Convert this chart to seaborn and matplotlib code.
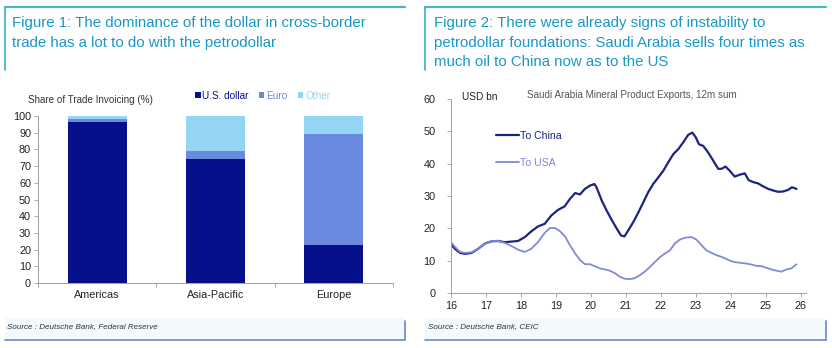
import matplotlib
matplotlib.use("Agg")
import matplotlib.pyplot as plt
from matplotlib.lines import Line2D
from matplotlib.patches import Rectangle, Patch
import numpy as np
import pandas as pd
import seaborn as sns

# ---- Figure 1 data: share of trade invoicing by currency (%) ----
regions = ["Americas", "Asia-Pacific", "Europe"]
usd_share = [96.5, 74, 23]
euro_share = [1.5, 5, 66]
other_share = [2, 21, 11]
currencies = ["U.S. dollar", "Euro", "Other"]

# ---- Figure 2 data: Saudi Arabia mineral product exports, 12m sum (USD bn) ----
china_years = [16.00, 16.11, 16.26, 16.40, 16.59, 16.78, 16.97, 17.16, 17.35, 17.54,
               17.73, 17.92, 18.11, 18.30, 18.49, 18.68, 18.87, 19.06, 19.25, 19.40,
               19.55, 19.69, 19.83, 19.97, 20.10, 20.16, 20.31, 20.45, 20.59, 20.74,
               20.86, 20.96, 21.07, 21.21, 21.36, 21.50, 21.64, 21.78, 21.93, 22.07,
               22.21, 22.36, 22.50, 22.64, 22.78, 22.90, 22.99, 23.09, 23.21, 23.35,
               23.50, 23.64, 23.73, 23.85, 23.97, 24.11, 24.26, 24.40, 24.51, 24.64,
               24.78, 24.92, 25.07, 25.21, 25.35, 25.50, 25.64, 25.75, 25.88]
china_exports = [15.1, 13.7, 12.4, 12.1, 12.4, 13.7, 15.3, 16.0, 16.1, 15.7,
                 15.9, 16.1, 17.3, 19.1, 20.6, 21.4, 24.0, 25.7, 26.8, 29.1,
                 30.9, 30.5, 32.2, 33.2, 33.7, 32.7, 28.6, 25.5, 22.7, 19.9,
                 17.8, 17.5, 19.4, 21.9, 25.0, 28.1, 31.2, 33.7, 35.8, 37.8,
                 40.4, 43.0, 44.5, 46.6, 48.9, 49.6, 48.3, 46.0, 45.5, 43.5,
                 40.9, 38.4, 38.4, 39.1, 37.8, 36.0, 36.6, 37.0, 34.9, 34.3,
                 33.9, 33.0, 32.2, 31.7, 31.3, 31.4, 31.9, 32.7, 32.2]
usa_years = [16.00, 16.11, 16.26, 16.40, 16.59, 16.78, 16.97, 17.16, 17.35, 17.54,
             17.73, 17.92, 18.11, 18.30, 18.49, 18.68, 18.83, 18.97, 19.12, 19.26,
             19.40, 19.55, 19.69, 19.83, 19.97, 20.11, 20.26, 20.40, 20.54, 20.69,
             20.83, 20.97, 21.12, 21.26, 21.40, 21.54, 21.69, 21.83, 21.97, 22.11,
             22.26, 22.40, 22.54, 22.69, 22.88, 23.02, 23.16, 23.30, 23.45, 23.59,
             23.73, 23.88, 24.02, 24.16, 24.30, 24.45, 24.59, 24.73, 24.88, 25.02,
             25.16, 25.30, 25.45, 25.59, 25.73, 25.88]
usa_exports = [15.8, 14.3, 12.7, 12.4, 12.6, 13.7, 15.3, 16.1, 16.1, 15.5,
               14.5, 13.4, 12.7, 13.7, 15.8, 18.6, 20.1, 20.1, 19.1, 17.5,
               14.8, 12.2, 10.2, 8.9, 8.9, 8.3, 7.6, 7.3, 6.9, 6.1,
               5.0, 4.4, 4.3, 4.6, 5.5, 6.6, 8.1, 9.6, 11.0, 12.2,
               13.2, 15.3, 16.5, 17.1, 17.3, 16.5, 14.8, 13.2, 12.4, 11.7,
               11.2, 10.5, 9.8, 9.5, 9.3, 9.1, 8.8, 8.4, 8.3, 7.8,
               7.3, 6.9, 6.6, 7.3, 7.6, 8.9]
year_ticks = list(range(16, 27))

# ---- styling ----
sns.set_theme(style="white")
plt.rcParams["font.family"] = ["Liberation Sans", "DejaVu Sans"]

W, H = 832, 348
NAVY = "#06108a"
EURO = "#6a8ae0"
OTHER = "#95d5f4"
CHINA = "#1c247f"
USA = "#8189da"
TITLE = "#1898c8"
FRAME = "#45b5cc"
SOURCE_LINE = "#7a8fd0"
TICK = "#222222"
SPINE = "#a0a0a0"


def fx(x):
    return x / W


def fy(y):
    return 1 - y / H


fig = plt.figure(figsize=(W / 100, H / 100), dpi=100)

# ---- panel frames, titles and source boxes ----
for x0, x1 in [(5, 405), (425, 826)]:
    fig.add_artist(Line2D([fx(x0), fx(x1)], [fy(7), fy(7)], color=FRAME, lw=1.6,
                          transform=fig.transFigure))
    fig.add_artist(Line2D([fx(x0), fx(x0)], [fy(7), fy(70)], color=FRAME, lw=1.3,
                          transform=fig.transFigure))
    fig.add_artist(Rectangle((fx(x0), fy(340)), fx(x1 - x0), (340 - 318) / H,
                             facecolor="#f2fafd", edgecolor="none",
                             transform=fig.transFigure))
    fig.add_artist(Line2D([fx(x0), fx(x1)], [fy(340), fy(340)], color=SOURCE_LINE,
                          lw=1.3, transform=fig.transFigure))
    fig.add_artist(Line2D([fx(x1), fx(x1)], [fy(321), fy(340)], color=SOURCE_LINE,
                          lw=1.3, transform=fig.transFigure))

fig.text(fx(12), fy(16), "Figure 1: The dominance of the dollar in cross-border\n"
         "trade has a lot to do with the petrodollar",
         color=TITLE, fontsize=10.8, va="top", ha="left", linespacing=1.5)
fig.text(fx(434), fy(16), "Figure 2: There were already signs of instability to\n"
         "petrodollar foundations: Saudi Arabia sells four times as\n"
         "much oil to China now as to the US",
         color=TITLE, fontsize=10.8, va="top", ha="left", linespacing=1.5)
fig.text(fx(7), fy(327), "Source : Deutsche Bank, Federal Reserve", fontsize=5.8,
         style="italic", color="#333333", va="center")
fig.text(fx(428), fy(327), "Source : Deutsche Bank, CEIC", fontsize=5.8,
         style="italic", color="#333333", va="center")

# ---- Figure 1: stacked bars ----
ax1 = fig.add_axes([fx(38), fy(283), fx(393 - 38), (283 - 116) / H])
bars = pd.DataFrame({"region": regions, "usd": usd_share, "euro": euro_share,
                     "other": other_share})
bars["top_other"] = bars["usd"] + bars["euro"] + bars["other"]
bars["top_euro"] = bars["usd"] + bars["euro"]
for col, colour in [("top_other", OTHER), ("top_euro", EURO), ("usd", NAVY)]:
    sns.barplot(data=bars, x="region", y=col, color=colour, width=0.5,
                saturation=1, ax=ax1, order=regions, linewidth=0,
                edgecolor="none")
ax1.set_ylim(0, 100)
ax1.set_xlim(-0.5, 2.5)
ax1.set_yticks(range(0, 101, 10))
ax1.set_xlabel("")
ax1.set_ylabel("")
ax1.tick_params(axis="y", length=3, width=0.6, color=SPINE, labelsize=7.8,
                labelcolor=TICK, pad=2, left=True)
ax1.tick_params(axis="x", length=0, labelsize=7.8, labelcolor=TICK, pad=5)
ax1.set_xticks([-0.5, 0.5, 1.5, 2.5], minor=True)
ax1.tick_params(axis="x", which="minor", length=3, width=0.6, color=SPINE, bottom=True)
for side in ["top", "right"]:
    ax1.spines[side].set_visible(False)
for side in ["left", "bottom"]:
    ax1.spines[side].set_color(SPINE)
    ax1.spines[side].set_linewidth(0.7)

fig.text(fx(28), fy(100), "Share of Trade Invoicing (%)", fontsize=7.1,
         color="#333333", va="center")
handles = [Patch(facecolor=c, edgecolor="none") for c in (NAVY, EURO, OTHER)]
leg1 = fig.legend(handles, currencies, loc="center left",
                  bbox_to_anchor=(fx(186), fy(96)), ncol=3, frameon=False,
                  fontsize=7.2, handlelength=0.55, handleheight=0.55,
                  handletextpad=0.2, columnspacing=1.0)
for txt, c in zip(leg1.get_texts(), (NAVY, EURO, OTHER)):
    txt.set_color(c)

# ---- Figure 2: line chart ----
ax2 = fig.add_axes([fx(451), fy(293), fx(806 - 451), (293 - 99) / H])
china = pd.DataFrame({"year": china_years, "value": china_exports})
usa = pd.DataFrame({"year": usa_years, "value": usa_exports})
sns.lineplot(data=china, x="year", y="value", color=CHINA, lw=1.6, ax=ax2,
             label="To China")
sns.lineplot(data=usa, x="year", y="value", color=USA, lw=1.3, ax=ax2,
             label="To USA")
ax2.set_xlim(16, 26.15)
ax2.set_ylim(0, 60)
ax2.set_xticks(year_ticks)
ax2.set_xticklabels([str(y) for y in year_ticks])
ax2.set_yticks(range(0, 61, 10))
ax2.set_xlabel("")
ax2.set_ylabel("")
ax2.tick_params(axis="both", length=3, width=0.6, color=SPINE, labelsize=7.8,
                labelcolor=TICK, bottom=True, left=True)
ax2.tick_params(axis="x", pad=3)
ax2.tick_params(axis="y", pad=8)
for side in ["top", "right"]:
    ax2.spines[side].set_visible(False)
for side in ["left", "bottom"]:
    ax2.spines[side].set_color(SPINE)
    ax2.spines[side].set_linewidth(0.7)

leg2 = ax2.legend(loc="upper left", bbox_to_anchor=(0.1, 0.885), frameon=False,
                  fontsize=7.6, handlelength=2.2, handletextpad=0.1,
                  labelspacing=1.6)
for txt, c in zip(leg2.get_texts(), (CHINA, USA)):
    txt.set_color(c)

ax2.text(0.03, 1.01, "USD bn", transform=ax2.transAxes, fontsize=7.3,
         color="#222222", va="center")
ax2.text(0.51, 1.02, "Saudi Arabia Mineral Product Exports, 12m sum",
         transform=ax2.transAxes, fontsize=7.1, color="#555555", va="center",
         ha="center")

fig.savefig("out.png", dpi=100)
